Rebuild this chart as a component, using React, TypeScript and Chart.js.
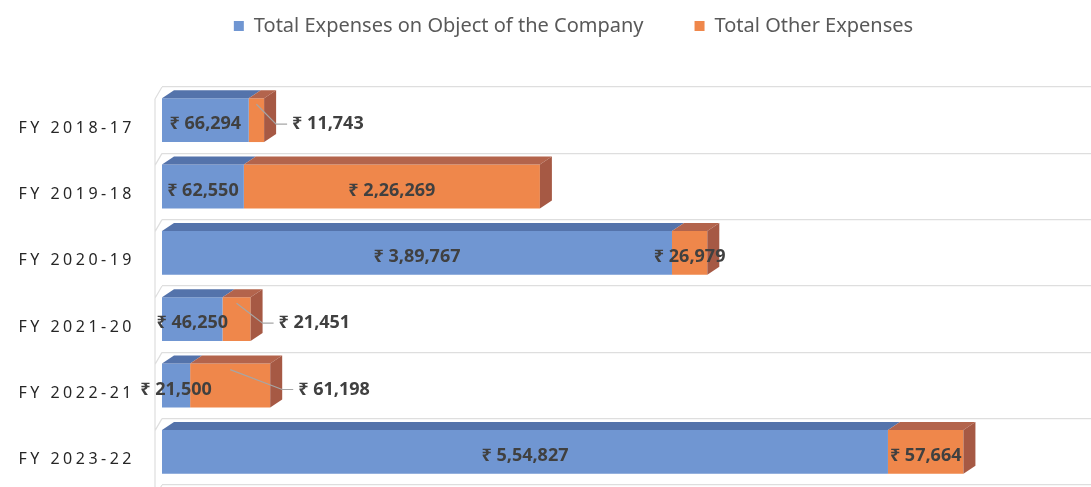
import React, { useEffect, useRef } from 'react';
import { Chart, registerables } from 'chart.js';

Chart.register(...registerables);

// ---- data ----
const categories = ['FY 2018-17', 'FY 2019-18', 'FY 2020-19', 'FY 2021-20', 'FY 2022-21', 'FY 2023-22'];
const objectExpenses = [66294, 62550, 389767, 46250, 21500, 554827];
const otherExpenses = [11743, 226269, 26979, 21451, 61198, 57664];
const seriesNames = ['Total Expenses on Object of the Company', 'Total Other Expenses'];
const xMax = 710000;

// ---- style config ----
const otherLabelOutside = [true, false, false, true, true, false];
const FRONT = ['#7096d2', '#ef874b'];
const TOP = ['#5473ab', '#b3644c'];
const SIDE = ['#4d6aa0', '#a65944'];
const GRID = '#dedede';
const DEPTH_X = 12;
const DEPTH_Y = -8;
const PLOT_TOP = 87;
const LEGEND_TOP = -35;
const LEGEND_SHIFT = 56;

function inr(n: number): string {
  const s = String(Math.round(n));
  if (s.length <= 3) return s;
  const last3 = s.slice(-3);
  const rest = s.slice(0, -3).replace(/\B(?=(\d{2})+(?!\d))/g, ',');
  return rest + ',' + last3;
}

const bar3d = {
  id: 'bar3d',
  afterLayout(chart: any) {
    const lg = chart.legend;
    if (lg) {
      const h = lg.bottom - lg.top;
      lg.left = LEGEND_SHIFT;
      lg.top = LEGEND_TOP;
      lg.bottom = LEGEND_TOP + h;
    }
  },
  beforeDraw(chart: any) {
    chart.ctx.letterSpacing = '0px';
  },
  beforeDatasetsDraw(chart: any) {
    // left wall of the 3D floor
    const ctx = chart.ctx;
    const { left, top, bottom } = chart.chartArea;
    const n = chart.data.labels.length;
    const step = (bottom - top) / n;
    ctx.save();
    ctx.strokeStyle = GRID;
    ctx.lineWidth = 1.2;
    ctx.beginPath();
    ctx.moveTo(left - 7, top + 12);
    ctx.lineTo(left - 7, bottom + 4);
    for (let i = 0; i <= n; i++) {
      const yg = top + i * step;
      ctx.moveTo(left - 7, yg + 12);
      ctx.lineTo(left, yg);
    }
    ctx.stroke();
    ctx.restore();
  },
  afterDatasetsDraw(chart: any) {
    const ctx = chart.ctx;
    const n = chart.data.labels.length;
    const metas = chart.data.datasets.map((_: any, i: number) => chart.getDatasetMeta(i));
    ctx.save();
    ctx.letterSpacing = '0px';
    const geo: any[] = [];
    for (let j = 0; j < n; j++) {
      let last: any = null;
      let lastDs = 0;
      const segs: any[] = [];
      metas.forEach((meta: any, di: number) => {
        const el = meta.data[j];
        const p = el.getProps(['x', 'y', 'base', 'height'], true);
        const x0 = Math.min(p.base, p.x);
        const x1 = Math.max(p.base, p.x);
        const yt = p.y - p.height / 2;
        const yb = p.y + p.height / 2;
        segs.push({ x0, x1, yt, yb, y: p.y });
        ctx.fillStyle = TOP[di];
        ctx.beginPath();
        ctx.moveTo(x0, yt);
        ctx.lineTo(x1, yt);
        ctx.lineTo(x1 + DEPTH_X, yt + DEPTH_Y);
        ctx.lineTo(x0 + DEPTH_X, yt + DEPTH_Y);
        ctx.closePath();
        ctx.fill();
        if (x1 - x0 > 0) {
          last = { x1, yt, yb };
          lastDs = di;
        }
      });
      if (last) {
        ctx.fillStyle = SIDE[lastDs];
        ctx.beginPath();
        ctx.moveTo(last.x1, last.yt);
        ctx.lineTo(last.x1 + DEPTH_X, last.yt + DEPTH_Y);
        ctx.lineTo(last.x1 + DEPTH_X, last.yb + DEPTH_Y);
        ctx.lineTo(last.x1, last.yb);
        ctx.closePath();
        ctx.fill();
      }
      geo.push(segs);
    }
    // labels
    ctx.font = 'bold 18px "Noto Sans"';
    ctx.fillStyle = '#404040';
    ctx.textBaseline = 'middle';
    for (let j = 0; j < n; j++) {
      const segs = geo[j];
      chart.data.datasets.forEach((ds: any, di: number) => {
        const s = segs[di];
        const txt = '₹ ' + inr(ds.data[j]);
        const ly = s.y + 4;
        if (di === 1 && otherLabelOutside[j]) {
          const endX = segs[segs.length - 1].x1 + DEPTH_X;
          const tx = endX + 16;
          ctx.strokeStyle = '#a6a6a6';
          ctx.lineWidth = 1.2;
          ctx.beginPath();
          ctx.moveTo((s.x0 + s.x1) / 2, s.yt + 6);
          ctx.lineTo(tx - 16, ly);
          ctx.lineTo(tx - 5, ly);
          ctx.stroke();
          ctx.textAlign = 'left';
          ctx.fillText(txt, tx, ly);
        } else {
          ctx.textAlign = 'center';
          ctx.fillText(txt, (s.x0 + s.x1) / 2, ly);
        }
      });
    }
    ctx.restore();
    ctx.letterSpacing = '3.5px';
  },
  afterDraw(chart: any) {
    chart.ctx.letterSpacing = '0px';
  },
};

export default function App() {
  const canvasRef = useRef<HTMLCanvasElement | null>(null);

  useEffect(() => {
    document.body.style.margin = '0';
    document.body.style.background = '#ffffff';
    const canvas = canvasRef.current;
    if (!canvas) return;
    const chart = new Chart(canvas, {
      type: 'bar',
      data: {
        labels: categories,
        datasets: [
          {
            label: seriesNames[0],
            data: objectExpenses,
            backgroundColor: FRONT[0],
            borderWidth: 0,
            barPercentage: 0.66,
            categoryPercentage: 1,
          },
          {
            label: seriesNames[1],
            data: otherExpenses,
            backgroundColor: FRONT[1],
            borderWidth: 0,
            barPercentage: 0.66,
            categoryPercentage: 1,
          },
        ],
      },
      options: {
        indexAxis: 'y',
        animation: false,
        responsive: true,
        maintainAspectRatio: false,
        layout: { padding: { top: 0, left: 0, right: 0, bottom: 2 } },
        plugins: {
          legend: {
            position: 'top',
            align: 'center',
            labels: {
              boxWidth: 10,
              boxHeight: 10,
              padding: 51,
              color: '#595959',
              font: { family: 'Noto Sans', size: 20 },
            },
          },
          tooltip: { enabled: false },
        },
        scales: {
          x: {
            stacked: true,
            position: 'top',
            min: 0,
            max: xMax,
            display: true,
            grid: { display: false },
            border: { display: false },
            ticks: { display: false },
            afterFit: (s: any) => {
              const lh = s.chart.legend ? s.chart.legend.height : 0;
              s.height = Math.max(0, PLOT_TOP - lh);
            },
          },
          y: {
            stacked: true,
            grid: {
              display: true,
              offset: true,
              color: GRID,
              lineWidth: 1.2,
              drawTicks: false,
            },
            border: { display: false },
            ticks: {
              z: 1,
              padding: 27,
              labelOffset: 8,
              color: '#262626',
              font: { family: 'Noto Sans', size: 16 },
            },
            afterFit: (s: any) => {
              s.width = 162;
              s.paddingTop = 0;
              s.paddingBottom = 0;
            },
          },
        },
      },
      plugins: [bar3d],
    });
    return () => chart.destroy();
  }, []);

  return (
    <div style={{ position: 'relative', width: '1091px', height: '487px' }}>
      <canvas ref={canvasRef} />
    </div>
  );
}
